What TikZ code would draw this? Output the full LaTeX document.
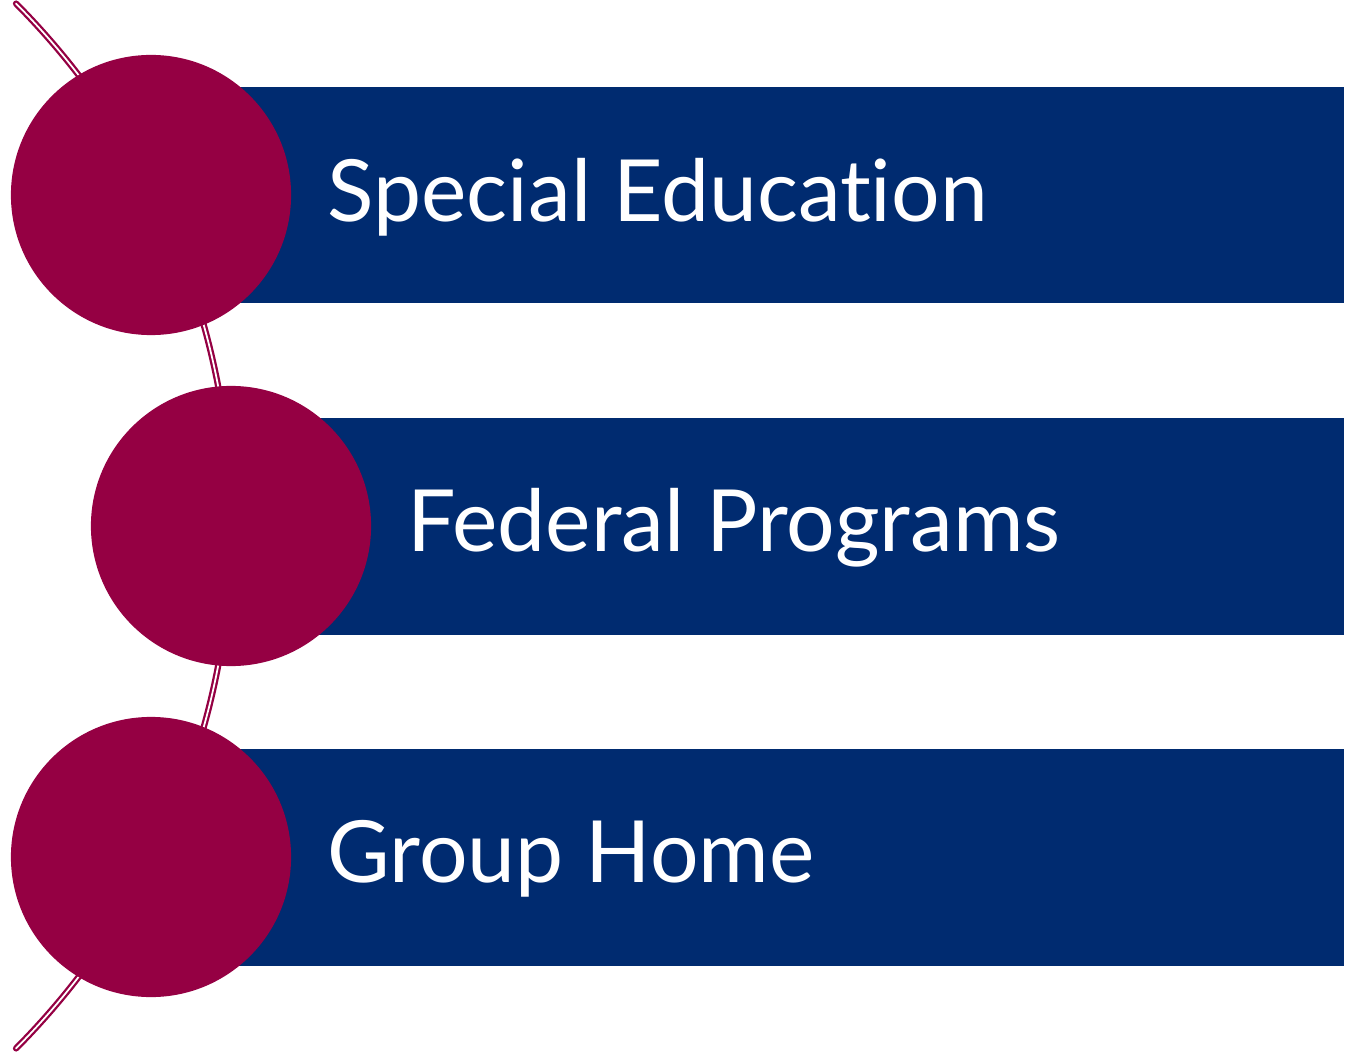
\documentclass[tikz,border=0pt]{standalone}
\usepackage{fontspec}
\setmainfont{Lato}[Ligatures=NoCommon]
\definecolor{crimson}{RGB}{149,0,67}
\definecolor{navy}{RGB}{0,43,112}
\tikzset{
  dot/.style={circle, fill=crimson, minimum size=2.8cm, inner sep=0pt},
  bar/.style={fill=navy},
  label/.style={anchor=west, text=white, inner sep=0pt, font=\fontsize{24.4}{28}\selectfont}
}
\begin{document}
\begin{tikzpicture}[x=0.01cm, y=0.01cm]
    \useasboundingbox (0,0) rectangle (1346,1054);
    % Arc behind the circles
    \draw[crimson, double=white, line width=0.65pt, double distance=0.5pt, line cap=round]
        (-510,528) ++(44.8:7.41cm) arc[start angle=44.8, end angle=-44.8, radius=7.41cm];
    % Bars
    \fill[bar] (151,751) rectangle (1344,967);
    \fill[bar] (231,419) rectangle (1344,636);
    \fill[bar] (151,88) rectangle (1344,305);
    % Circles
    \node[dot] (c1) at (151,859) {};
    \node[dot] (c2) at (231,528) {};
    \node[dot] (c3) at (151,197) {};
    % Labels
    \node[label] (t1) at (327,857) {Special Education};
    \node[label] (t2) at (407,526) {Federal Programs};
    \node[label] (t3) at (327,195) {Group Home};
\end{tikzpicture}
\end{document}
